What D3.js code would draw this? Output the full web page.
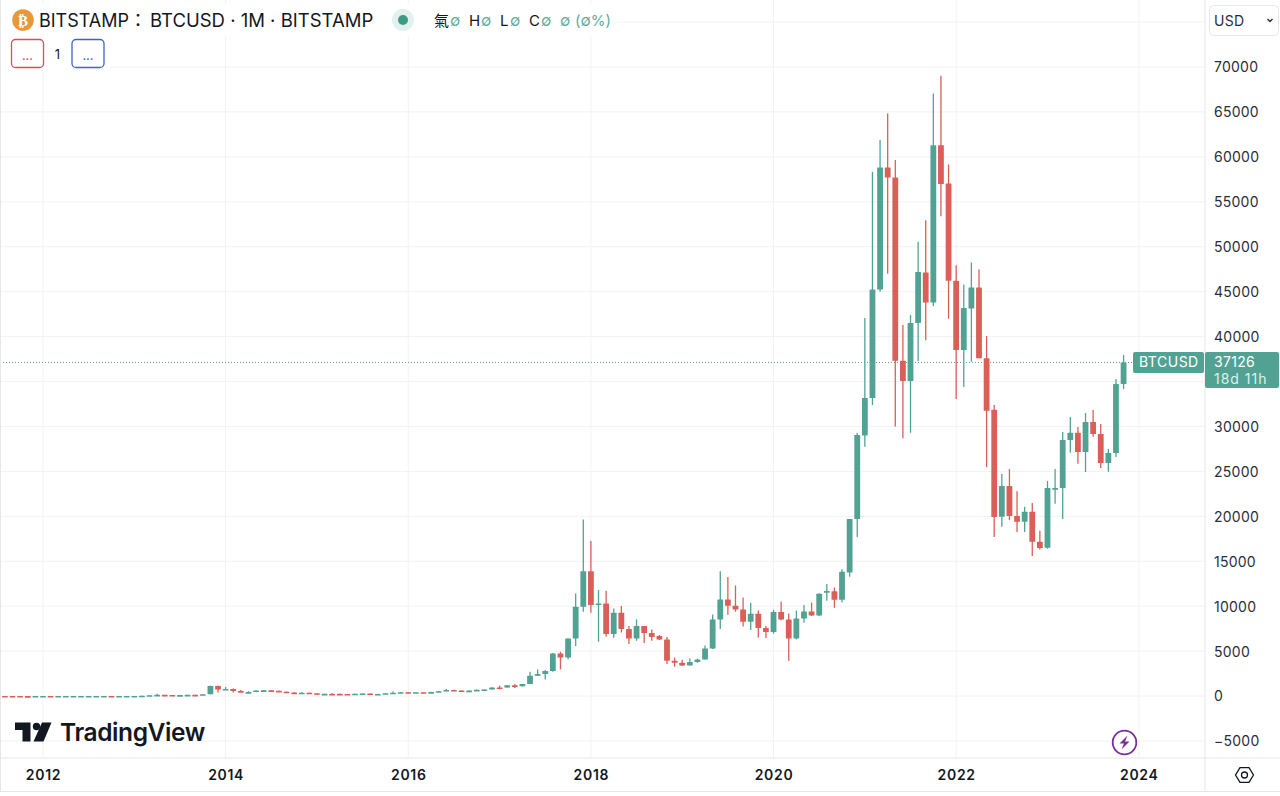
<!DOCTYPE html>
<html>
<head>
<meta charset="utf-8">
<script src="https://cdn.jsdelivr.net/npm/d3@7"></script>
<style>
  html,body{margin:0;padding:0;background:#fff;overflow:hidden}
  text{font-family:Inter,"Noto Sans CJK TC",sans-serif}
</style>
</head>
<body>
<svg id="chart" width="1280" height="796"></svg>
<script>
// monthly candles, aug 2011 - nov 2023
const months = [
  '2011-08','2011-09','2011-10','2011-11','2011-12',
  '2012-01','2012-02','2012-03','2012-04','2012-05','2012-06','2012-07','2012-08','2012-09','2012-10','2012-11','2012-12',
  '2013-01','2013-02','2013-03','2013-04','2013-05','2013-06','2013-07','2013-08','2013-09','2013-10','2013-11','2013-12',
  '2014-01','2014-02','2014-03','2014-04','2014-05','2014-06','2014-07','2014-08','2014-09','2014-10','2014-11','2014-12',
  '2015-01','2015-02','2015-03','2015-04','2015-05','2015-06','2015-07','2015-08','2015-09','2015-10','2015-11','2015-12',
  '2016-01','2016-02','2016-03','2016-04','2016-05','2016-06','2016-07','2016-08','2016-09','2016-10','2016-11','2016-12',
  '2017-01','2017-02','2017-03','2017-04','2017-05','2017-06','2017-07','2017-08','2017-09','2017-10','2017-11','2017-12',
  '2018-01','2018-02','2018-03','2018-04','2018-05','2018-06','2018-07','2018-08','2018-09','2018-10','2018-11','2018-12',
  '2019-01','2019-02','2019-03','2019-04','2019-05','2019-06','2019-07','2019-08','2019-09','2019-10','2019-11','2019-12',
  '2020-01','2020-02','2020-03','2020-04','2020-05','2020-06','2020-07','2020-08','2020-09','2020-10','2020-11','2020-12',
  '2021-01','2021-02','2021-03','2021-04','2021-05','2021-06','2021-07','2021-08','2021-09','2021-10','2021-11','2021-12',
  '2022-01','2022-02','2022-03','2022-04','2022-05','2022-06','2022-07','2022-08','2022-09','2022-10','2022-11','2022-12',
  '2023-01','2023-02','2023-03','2023-04','2023-05','2023-06','2023-07','2023-08','2023-09','2023-10','2023-11'
];
const opens = [
  10,8.2,5,3.2,3,
  4.7,5.5,4.9,4.9,5,5.1,6.7,9.4,10,12.4,10.9,12.5,
  13.5,20.4,33,93,139,129,97,106,135,133,204,1130,
  735,800,550,445,445,625,640,585,480,387,338,378,
  320,218,254,244,236,230,263,284,230,236,314,377,
  430,368,437,416,448,536,673,624,575,608,700,742,
  966,965,1190,1080,1340,2262,2448,2780,4747,4300,6416,9940,
  13900,10125,10310,6900,9270,7455,6416,7790,7010,6676,6305,3930,
  3710,3410,3780,4080,5300,8530,10756,10050,9640,8270,9160,7566,
  7120,9350,8530,6416,8640,9420,8975,11500,11650,10720,13760,19700,
  29000,33160,45250,58825,57700,37310,35050,41510,47140,43800,61300,57040,
  46210,38500,43130,45470,37600,31860,19950,23370,20030,19400,20510,17180,
  16500,23150,23150,28490,29300,27150,30500,29160,25930,27040,34720
];
const highs = [
  13,9,6,3.6,4.8,
  7,6.2,5.5,5.4,5.2,6.8,9.8,15,12.9,13,12.9,13.8,
  21,34,95,260,140,130,110,136,145,210,1163,1163,
  1000,840,700,540,640,680,660,600,510,420,460,400,
  320,265,300,262,247,268,318,285,245,335,500,465,
  460,448,440,470,555,780,705,625,610,730,760,980,
  1150,1200,1350,1350,2700,2967,2893,4800,4930,6416,11420,19660,
  17250,11790,11720,9750,10010,7790,8530,7800,7418,6790,6565,4300,
  4040,4190,4150,5640,9090,13900,13240,12310,10980,10385,9530,7790,
  9600,10530,9200,9495,10125,10420,11450,12460,12090,14100,19700,29300,
  42070,58340,61870,64830,59640,41300,42400,50550,52960,67060,69020,59160,
  47950,45800,48250,47470,40060,32400,24700,25260,22800,21060,21470,18400,
  23930,25260,29380,31050,29930,31490,31830,30270,27490,35280,37950
];
const lows = [
  7,4.8,2.2,2.2,2.9,
  4.1,4.1,4.5,4.6,4.8,5,6.4,7.1,9.9,9.9,10.5,12.5,
  13,19,33,50,105,90,68,104,122,90,200,400,
  750,400,440,340,420,530,570,440,360,275,310,300,
  165,212,235,215,226,220,253,196,228,236,300,350,
  350,364,396,405,443,528,610,470,570,600,690,740,
  750,920,890,1060,1335,2225,1855,2700,2967,4100,5560,9380,
  9270,6045,6600,6490,7080,5786,6157,5900,6157,6230,3560,3264,
  3340,3390,3690,4080,5250,7455,9050,9380,7750,7344,6530,6450,
  6935,8450,3930,6300,8160,8900,8900,10600,9830,10420,13280,17700,
  27750,32380,45000,47000,30000,28700,29300,37280,39600,43400,53400,41990,
  33050,34400,37200,37600,25470,17700,18840,19580,18250,18250,15580,16300,
  16400,21400,19700,27080,25850,24930,28860,25370,24960,26600,34160
];
const closes = [
  8.2,5,3.2,3,4.7,
  5.5,4.9,4.9,5,5.1,6.7,9.4,10,12.4,10.9,12.5,13.5,
  20.4,33,93,139,129,97,106,135,133,204,1130,735,
  800,550,445,445,625,640,585,480,387,338,378,320,
  218,254,244,236,230,263,284,230,236,314,377,430,
  368,437,416,448,536,673,624,575,608,700,742,966,
  965,1190,1080,1340,2262,2448,2780,4747,4300,6416,9940,13900,
  10125,10310,6900,9270,7455,6416,7790,7010,6565,6305,3930,3710,
  3410,3780,4080,5300,8530,10756,10050,9640,8270,9160,7566,7120,
  9350,8530,6416,8640,9420,8975,11390,11680,10720,13835,19700,29040,
  33160,45250,58825,57700,37310,35050,41510,47180,43800,61300,56970,46210,
  38500,43180,45470,37600,31750,19920,23370,20030,19400,20510,17180,16470,
  23150,23150,28490,29300,27150,30500,29160,25930,27040,34720,37126
];
const yearTicks = ['2012-01','2014-01','2016-01','2018-01','2020-01','2022-01','2024-01'];
// 35000 sits under the last price tag so it has no label
const priceTicks = [-5000,0,5000,10000,15000,20000,25000,30000,40000,45000,50000,55000,60000,65000,70000];
const gridPrices = priceTicks.concat([35000,75000]);
const lastPrice = 37126;

const upColor = '#52a294';
const downColor = '#da5f58';
const gridColor = '#f1f2f6';
const lineColor = '#e4e6ea';
const textColor = '#131722';
const chartRight = 1205;
const axisTop = 758;

const svg = d3.select('#chart');
svg.append('rect').attr('width',1280).attr('height',796).attr('fill','#fff');

// one extra month on the scale so the 2024 tick has a slot
const xDomain = months.concat(['2023-12','2024-01']);
const x = d3.scalePoint().domain(xDomain).range([4.95,1138.8]);
const y = d3.scaleLinear().domain([-5000,70000]).range([741,67]);

//grid
const grid = svg.append('g');
grid.selectAll('line.h').data(gridPrices).enter().append('line').attr('class','h')
  .attr('x1',1).attr('x2',chartRight).attr('y1',d=>y(d)).attr('y2',d=>y(d))
  .attr('stroke',gridColor).attr('stroke-width',1);
grid.selectAll('line.v').data(yearTicks).enter().append('line').attr('class','v')
  .attr('x1',d=>x(d)).attr('x2',d=>x(d)).attr('y1',0).attr('y2',axisTop)
  .attr('stroke',gridColor).attr('stroke-width',1);

//price line
svg.append('line').attr('x1',0).attr('x2',1133).attr('y1',y(lastPrice)).attr('y2',y(lastPrice))
  .attr('stroke',upColor).attr('stroke-width',1).attr('stroke-dasharray','1 2');

//candles
const candles = months.map((m,i)=>({m:m,o:opens[i],h:highs[i],l:lows[i],c:closes[i]}));
const colorOf = d=>d.c>=d.o?upColor:downColor;
const g = svg.append('g');
g.selectAll('line.wick').data(candles).enter().append('line').attr('class','wick')
  .attr('x1',d=>x(d.m)).attr('x2',d=>x(d.m)).attr('y1',d=>y(d.h)).attr('y2',d=>y(d.l))
  .attr('stroke',colorOf).attr('stroke-width',1.3);
g.selectAll('rect').data(candles).enter().append('rect')
  .attr('x',d=>x(d.m)-2.9).attr('width',5.8)
  .attr('y',d=>y(Math.max(d.o,d.c)))
  .attr('height',d=>Math.max(1.6,Math.abs(y(d.o)-y(d.c))))
  .attr('rx',0.5)
  .attr('fill',colorOf);

//axes
const xAxis = d3.axisBottom(x).tickValues(yearTicks).tickFormat(d=>d.slice(0,4)).tickSize(0).tickPadding(0);
const yAxis = d3.axisRight(y).tickValues(priceTicks).tickFormat(d=>String(d).replace('-','\u2212')).tickSize(0).tickPadding(0);
const xG = svg.append('g').attr('transform','translate(0,'+axisTop+')').call(xAxis);
xG.select('.domain').remove();
xG.selectAll('text').attr('y',22).attr('dy',0).attr('font-size',14).attr('font-weight',600)
  .attr('letter-spacing',0.7).attr('fill',textColor).style('font-family','Inter');
const yG = svg.append('g').attr('transform','translate(1214,0)').call(yAxis);
yG.select('.domain').remove();
yG.selectAll('text').attr('x',0).attr('dy','0.35em').attr('font-size',14).attr('letter-spacing',0.25)
  .attr('fill','#2a2e39').style('font-family','Inter');

//axis frame
svg.append('line').attr('x1',chartRight).attr('x2',chartRight).attr('y1',0).attr('y2',791).attr('stroke',lineColor);
svg.append('line').attr('x1',0).attr('x2',1280).attr('y1',axisTop).attr('y2',axisTop).attr('stroke',lineColor);
svg.append('line').attr('x1',0).attr('x2',1280).attr('y1',791.5).attr('y2',791.5).attr('stroke',lineColor);
svg.append('line').attr('x1',0.5).attr('x2',0.5).attr('y1',0).attr('y2',791).attr('stroke',lineColor);

//last price tags
svg.append('rect').attr('x',1133).attr('y',352).attr('width',71).attr('height',21).attr('rx',2).attr('fill',upColor);
svg.append('text').attr('x',1139).attr('y',367).attr('font-size',14).attr('letter-spacing',0.5).attr('fill','#fff').text('BTCUSD');
svg.append('rect').attr('x',1205).attr('y',352).attr('width',74).attr('height',36).attr('rx',2).attr('fill',upColor);
svg.append('text').attr('x',1214).attr('y',367).attr('font-size',14).attr('letter-spacing',0.3).attr('fill','#fff').text('37126');
svg.append('text').attr('x',1214).attr('y',384).attr('font-size',14).attr('letter-spacing',1).attr('fill','#dff0ec').text('18d 11h');

//legend header
svg.append('rect').attr('x',2).attr('y',4).attr('width',615).attr('height',32).attr('fill','#fff');
svg.append('rect').attr('x',2).attr('y',36).attr('width',108).attr('height',36).attr('fill','#fff');
svg.append('circle').attr('cx',23).attr('cy',20).attr('r',10.8).attr('fill','#e8973a');
svg.append('text').attr('x',23).attr('y',25.5).attr('text-anchor','middle').attr('font-size',15).attr('font-weight',700)
  .attr('fill','#fff').style('font-family','DejaVu Sans').text('\u20bf');
svg.append('text').attr('x',39).attr('y',27).attr('font-size',18).attr('fill',textColor).text('BITSTAMP\uff1a');
svg.append('text').attr('x',150).attr('y',27).attr('font-size',18.5).attr('fill',textColor).text('BTCUSD \u00b7 1M \u00b7 BITSTAMP');
svg.append('circle').attr('cx',403).attr('cy',20).attr('r',11).attr('fill','#e3f1ee');
svg.append('circle').attr('cx',403).attr('cy',20).attr('r',5).attr('fill','#3f9a85');

const ohlcLabels = [['\u6c23',434],['H',469],['L',500],['C',529]];
ohlcLabels.forEach(d=>{
  svg.append('text').attr('x',d[1]).attr('y',26).attr('font-size',15).attr('fill',textColor).text(d[0]);
});
const ohlcValues = [['\u2205',450],['\u2205',481],['\u2205',510],['\u2205',541],['\u2205',560],['(\u2205%)',575]];
ohlcValues.forEach(d=>{
  svg.append('text').attr('x',d[1]).attr('y',26).attr('font-size',15).attr('fill','#63aa9c').text(d[0]);
});

//study buttons
svg.append('rect').attr('x',11.5).attr('y',39.5).attr('width',32).attr('height',28).attr('rx',4)
  .attr('fill','#fff').attr('stroke','#d4505c').attr('stroke-width',1.3);
svg.append('text').attr('x',27.5).attr('y',60).attr('text-anchor','middle').attr('font-size',13).attr('fill','#d4505c').text('...');
svg.append('text').attr('x',57.5).attr('y',59).attr('text-anchor','middle').attr('font-size',13).attr('fill',textColor).text('1');
svg.append('rect').attr('x',72).attr('y',39.5).attr('width',32).attr('height',28).attr('rx',4)
  .attr('fill','#fff').attr('stroke','#3a66c4').attr('stroke-width',1.3);
svg.append('text').attr('x',88).attr('y',60).attr('text-anchor','middle').attr('font-size',13).attr('fill','#3a66c4').text('...');

//currency select
svg.append('rect').attr('x',1209.5).attr('y',5.5).attr('width',69).attr('height',30).attr('rx',4)
  .attr('fill','#fff').attr('stroke','#e6e7ea');
svg.append('text').attr('x',1214).attr('y',26).attr('font-size',14).attr('letter-spacing',0.3).attr('fill','#2a2e39').text('USD');
svg.append('path').attr('d','M1267.5 19l2.5 2.5 2.5-2.5').attr('fill','none').attr('stroke','#2a2e39').attr('stroke-width',1.4);

//tradingview logo
svg.append('path').attr('fill',textColor)
  .attr('d','M15 722.5H30.5V741.5H22.5V730H15Z M42 722.5H51.5L43.5 741.5H33.5Z');
svg.append('circle').attr('cx',36.5).attr('cy',726.5).attr('r',3.7).attr('fill',textColor);
svg.append('text').attr('x',60).attr('y',741).attr('font-size',24.5).attr('font-weight',600).attr('letter-spacing',-0.4)
  .attr('fill',textColor).text('TradingView');

//lightning badge
svg.append('circle').attr('cx',1124.5).attr('cy',742.5).attr('r',11.8).attr('fill','#fff').attr('stroke','#7b2f9e').attr('stroke-width',1.8);
svg.append('path').attr('d','M1127.5 735.5L1119.5 743.5H1124L1121.5 749.5L1129.5 741.5H1125Z').attr('fill','#7b2f9e');

//settings hexagon
const hex = d3.range(6).map(i=>{
  const a = i*Math.PI/3;
  return [1244.5+9*Math.cos(a),775+8.6*Math.sin(a)];
});
svg.append('path').attr('d',d3.line()(hex)+'Z').attr('fill','none').attr('stroke',textColor).attr('stroke-width',1.3);
svg.append('circle').attr('cx',1244.5).attr('cy',775).attr('r',3).attr('fill','none').attr('stroke',textColor).attr('stroke-width',1.3);
</script>
</body>
</html>
